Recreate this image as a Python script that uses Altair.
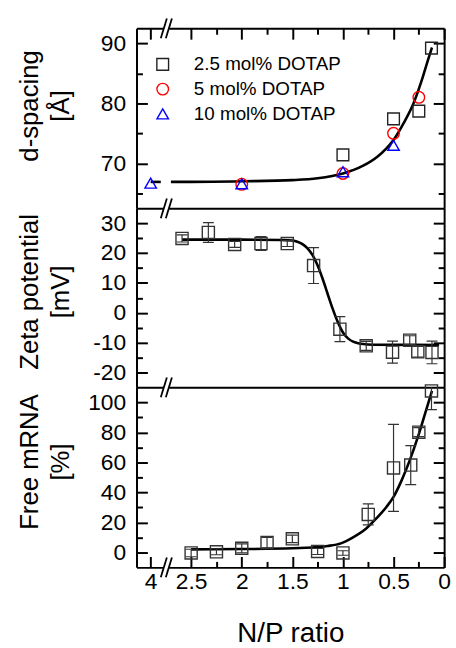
import altair as alt
import pandas as pd

FONT = "Liberation Sans"

# ---------------- data ----------------
POS_OF_4 = 2.9          # N/P = 4 sits on the broken part of the axis

ds_series = ["2.5 mol% DOTAP", "5 mol% DOTAP", "10 mol% DOTAP"]
sq_np = [1.0, 0.5, 0.25, 0.125]
sq_d = [71.4, 77.4, 78.7, 89.2]
ci_np = [2.0, 1.0, 0.5, 0.25]
ci_d = [66.5, 68.3, 75.0, 81.0]
tr_np = [4.0, 2.0, 1.0, 0.5]
tr_d = [66.7, 66.6, 68.6, 73.0]

ds_fit_pos = [2.9, 2.8, 2.7, 2.5, 2.0, 1.5, 1.25, 1.0, 0.8, 0.66, 0.57, 0.5, 0.4, 0.3, 0.22, 0.16, 0.12]
ds_fit_val = [66.9, 66.9, 66.9, 66.9, 67.0, 67.2, 67.5, 68.3, 69.6, 71.1, 72.5, 73.9, 76.7, 80.1, 83.9, 87.2, 89.3]
ds_fit_seg = [0, 0, 1, 1, 1, 1, 1, 1, 1, 1, 1, 1, 1, 1, 1, 1, 1]

zeta_np = [2.59, 2.33, 2.07, 1.81, 1.55, 1.29, 1.03, 0.77, 0.51, 0.34, 0.26, 0.12]
zeta_val = [24.9, 26.9, 22.9, 23.2, 23.2, 15.8, -5.5, -11.1, -13.2, -9.2, -13.1, -13.3]
zeta_err = [1.2, 3.3, 1.0, 2.3, 1.0, 6.0, 4.2, 1.5, 3.7, 1.5, 1.8, 3.8]
zeta_fit_pos = [2.59, 2.0, 1.6, 1.5, 1.45, 1.4, 1.35, 1.3, 1.25, 1.2, 1.15, 1.1, 1.05, 1.0,
                0.95, 0.9, 0.85, 0.8, 0.7, 0.05]
zeta_fit_val = [24.5, 24.5, 24.4, 24.2, 23.8, 23.0, 21.6, 19.3, 15.8, 11.3, 6.2, 1.2, -3.2, -6.6,
                -8.6, -9.7, -10.2, -10.5, -10.7, -10.8]

mrna_np = [2.5, 2.25, 2.0, 1.75, 1.5, 1.25, 1.0, 0.75, 0.5, 0.33, 0.25, 0.125]
mrna_val = [-0.4, 0.4, 2.7, 6.5, 9.0, 0.6, -0.4, 25.3, 56.3, 58.2, 80.1, 107.6]
mrna_err = [2.5, 2.0, 3.0, 3.5, 2.5, 2.0, 1.5, 7.0, 29.0, 13.0, 3.0, 12.5]
mrna_fit_pos = [2.5, 2.0, 1.5, 1.25, 1.15, 1.02, 0.9, 0.77, 0.67, 0.57, 0.5, 0.42, 0.34, 0.26, 0.18, 0.12]
mrna_fit_val = [2.0, 2.2, 2.7, 3.6, 4.3, 6.0, 10.0, 15.9, 22.6, 30.3, 37.0, 48.0, 61.3, 76.8, 94.4, 107.7]

x_major = [POS_OF_4, 2.5, 2.0, 1.5, 1.0, 0.5, 0.0]
x_minor = [2.25, 1.75, 1.25, 0.75, 0.25]
ds_major, ds_minor = [70, 80, 90], [65, 75, 85]
zeta_major, zeta_minor = [-20, -10, 0, 10, 20, 30], [-15, -5, 5, 15, 25]
mrna_major, mrna_minor = [0, 20, 40, 60, 80, 100], [10, 30, 50, 70, 90]

# ---------------- layout / style ----------------
W = 311
HS = [182, 181, 182]
XDOM = [0, 3.04]
MAJ, MIN = 11, 6


def pos(v):
    return POS_OF_4 if v == 4.0 else v


BASE = dict(grid=False, zindex=0, domainColor="black", domainWidth=2, tickColor="black",
            tickWidth=2, labelFont=FONT, labelFontSize=23, labelColor="black",
            labelFlush=False, labelOverlap=False, titleFont=FONT, titleColor="black",
            titleFontWeight="normal")


def ax(**kw):
    d = dict(BASE)
    d.update(kw)
    return alt.Axis(**d)


def tick_axis(orient, offset, values, size, domain=False):
    return ax(orient=orient, offset=offset, values=values, tickSize=size, labels=False,
              domain=domain, title=None, ticks=True)


def xsc():
    return alt.Scale(domain=XDOM, reverse=True, nice=False, zero=False)


def ysc(dom):
    return alt.Scale(domain=dom, nice=False, zero=False)


def axis_layer(ydom, xaxis, yaxis):
    df = pd.DataFrame({"x": [XDOM[0]], "y": [ydom[0]]})
    return alt.Chart(df).mark_point(opacity=0).encode(
        x=alt.X("x:Q", scale=xsc(), axis=xaxis),
        y=alt.Y("y:Q", scale=ysc(ydom), axis=yaxis),
    )


def axes_for(idx, ydom, major, minor, h, title_lines, title_y):
    if idx == 2:
        x_lab = ax(orient="bottom", values=x_major, ticks=False, labelPadding=3, domain=True,
                   labelExpr="datum.value > 2.8 ? '4' : toString(datum.value)",
                   title="N/P ratio", titleFontSize=28, titlePadding=27)
    else:
        x_lab = ax(orient="bottom", ticks=False, labels=False, domain=True, title=None)
    y_lab = ax(orient="left", values=major, ticks=False, labelPadding=11, domain=True,
               labelExpr="toString(datum.value)", title=title_lines, titleFontSize=26,
               titleX=-100, titleY=title_y, titleBaseline="alphabetic", titleAlign="center",
               titleLineHeight=31)
    if idx == 0:
        xa_maj = tick_axis("bottom", -h, x_major, MAJ, domain=True)
        xa_min = tick_axis("bottom", -h, x_minor, MIN)
    elif idx == 2:
        xa_maj = tick_axis("top", -h, x_major, MAJ)
        xa_min = tick_axis("top", -h, x_minor, MIN)
    else:
        xa_maj = None
        xa_min = None
    return [
        axis_layer(ydom, x_lab, y_lab),
        axis_layer(ydom, xa_maj, tick_axis("right", -W, major, MAJ)),
        axis_layer(ydom, xa_min, tick_axis("left", -W, major, MAJ, domain=True)),
        axis_layer(ydom, None, tick_axis("right", -W, minor, MIN)),
        axis_layer(ydom, None, tick_axis("left", -W, minor, MIN)),
    ]


def break_layers(ydom, edges):
    out = []
    slash_df = pd.DataFrame({"xa": [2.80, 2.75], "xb": [2.74, 2.69]})
    gap_df = pd.DataFrame({"xa": [2.772], "xb": [2.718]})
    for e in edges:
        out.append(alt.Chart(gap_df).mark_rule(color="white", strokeWidth=4).encode(
            x=alt.X("xa:Q", scale=xsc(), axis=None), x2="xb:Q", y=alt.value(e)))
        out.append(alt.Chart(slash_df).mark_rule(color="black", strokeWidth=1.8).encode(
            x=alt.X("xa:Q", scale=xsc(), axis=None), x2="xb:Q",
            y=alt.value(e + 10), y2=alt.value(e - 10)))
    return out


def curve(df, ydom, detail=False):
    enc = dict(x=alt.X("pos:Q", scale=xsc(), axis=None),
               y=alt.Y("val:Q", scale=ysc(ydom), axis=None),
               order="ord:Q")
    if detail:
        enc["detail"] = "seg:N"
    return alt.Chart(df).mark_line(color="black", strokeWidth=2.6, interpolate="monotone").encode(**enc)


def err_layers(df, ydom):
    x = alt.X("pos:Q", scale=xsc(), axis=None)
    rule = alt.Chart(df).mark_rule(color="#333333", strokeWidth=1.2, clip=True).encode(
        x=x, y=alt.Y("lo:Q", scale=ysc(ydom), axis=None), y2="hi:Q")
    caps = [alt.Chart(df).mark_tick(orient="horizontal", color="#333333", thickness=1.2, size=11,
                                    clip=True, opacity=1).encode(
        x=x, y=alt.Y(f"{c}:Q", scale=ysc(ydom), axis=None)) for c in ("lo", "hi")]
    sq = alt.Chart(df).mark_point(shape="square", filled=False, size=150, strokeWidth=1.4,
                                  color="#333333", opacity=1).encode(
        x=x, y=alt.Y("val:Q", scale=ysc(ydom), axis=None))
    return [rule] + caps + [sq]


# ---------------- panel 1 ----------------
ydom1 = [62.5, 92.5]
ds_df = pd.DataFrame({
    "pos": [pos(v) for v in sq_np + ci_np + tr_np],
    "d": sq_d + ci_d + tr_d,
    "series": [ds_series[0]] * len(sq_np) + [ds_series[1]] * len(ci_np) + [ds_series[2]] * len(tr_np),
})
leg = alt.Legend(orient="none", legendX=17, legendY=27, title=None, labelFont=FONT,
                 labelFontSize=19, labelColor="black", symbolStrokeWidth=1.4, rowPadding=5,
                 labelOffset=22, padding=0)
pts1 = alt.Chart(ds_df).mark_point(filled=False, strokeWidth=1.4, opacity=1).encode(
    x=alt.X("pos:Q", scale=xsc(), axis=None),
    y=alt.Y("d:Q", scale=ysc(ydom1), axis=None),
    color=alt.Color("series:N", scale=alt.Scale(domain=ds_series, range=["#222222", "#ff0000", "#0000ff"]), legend=leg),
    shape=alt.Shape("series:N", scale=alt.Scale(domain=ds_series, range=["square", "circle", "triangle-up"]), legend=leg),
    size=alt.Size("series:N", scale=alt.Scale(domain=ds_series, range=[140, 135, 220]), legend=leg),
)
fit1 = pd.DataFrame({"pos": ds_fit_pos, "val": ds_fit_val, "seg": ds_fit_seg,
                     "ord": list(range(len(ds_fit_pos)))})
p1 = alt.layer(
    *axes_for(0, ydom1, ds_major, ds_minor, HS[0], ["d-spacing", "[Å]"], 78),
    curve(fit1, ydom1, detail=True), pts1,
    *break_layers(ydom1, [0, HS[0]]),
).properties(width=W, height=HS[0]).resolve_axis(x="independent", y="independent")

# ---------------- panel 2 ----------------
ydom2 = [-25, 35]
z_df = pd.DataFrame({"pos": zeta_np, "val": zeta_val})
z_df["lo"] = [v - e for v, e in zip(zeta_val, zeta_err)]
z_df["hi"] = [v + e for v, e in zip(zeta_val, zeta_err)]
fit2 = pd.DataFrame({"pos": zeta_fit_pos, "val": zeta_fit_val, "ord": list(range(len(zeta_fit_pos)))})
p2 = alt.layer(
    *axes_for(1, ydom2, zeta_major, zeta_minor, HS[1], ["Zeta potential", "[mV]"], 84),
    curve(fit2, ydom2), *err_layers(z_df, ydom2),
    *break_layers(ydom2, [HS[1]]),
).properties(width=W, height=HS[1]).resolve_axis(x="independent", y="independent")

# ---------------- panel 3 ----------------
ydom3 = [-10, 110]
m_df = pd.DataFrame({"pos": mrna_np, "val": mrna_val})
m_df["lo"] = [v - e for v, e in zip(mrna_val, mrna_err)]
m_df["hi"] = [v + e for v, e in zip(mrna_val, mrna_err)]
fit3 = pd.DataFrame({"pos": mrna_fit_pos, "val": mrna_fit_val, "ord": list(range(len(mrna_fit_pos)))})
p3 = alt.layer(
    *axes_for(2, ydom3, mrna_major, mrna_minor, HS[2], ["Free mRNA", "[%]"], 75),
    curve(fit3, ydom3), *err_layers(m_df, ydom3),
    *break_layers(ydom3, [HS[2]]),
).properties(width=W, height=HS[2]).resolve_axis(x="independent", y="independent")

chart = alt.vconcat(p1, p2, p3, spacing=0, bounds="flush").resolve_scale(
    x="independent", y="independent"
).properties(
    padding={"left": 16, "top": 14, "right": 5, "bottom": 5},
    background="white",
).configure_view(strokeOpacity=0)

chart.save("out.html", embed_options={"renderer": "svg", "actions": False})
